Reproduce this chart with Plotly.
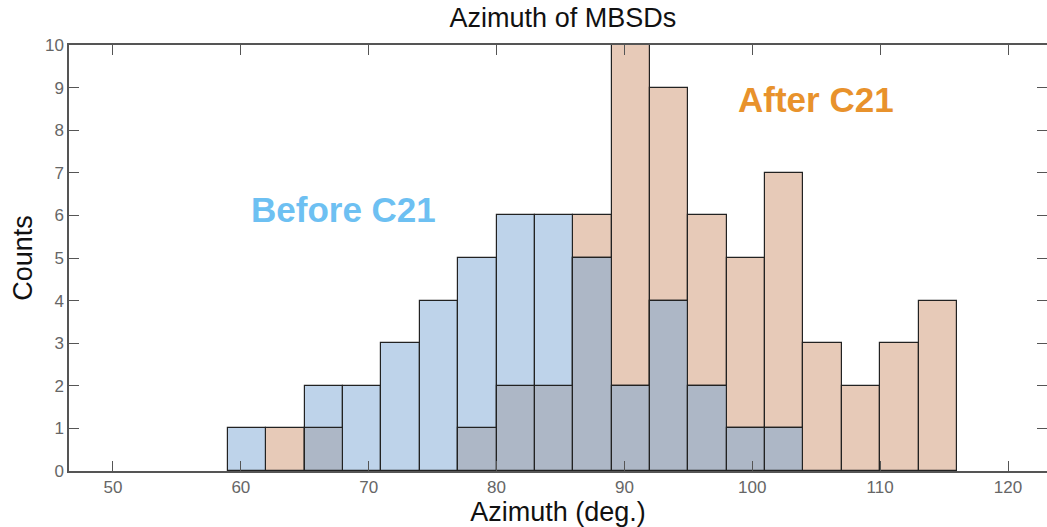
import plotly.graph_objects as go

bin_starts = [59, 62, 65, 68, 71, 74, 77, 80, 83, 86, 89, 92, 95, 98, 101, 104, 107, 110, 113]
bin_width = 3
before_counts = [1, 0, 2, 2, 3, 4, 5, 6, 6, 5, 2, 4, 2, 1, 1, 0, 0, 0, 0]
after_counts = [0, 1, 1, 0, 0, 0, 1, 2, 2, 6, 10, 9, 6, 5, 7, 3, 2, 3, 4]
x_ticks = [50, 60, 70, 80, 90, 100, 110, 120]
y_ticks = list(range(0, 11))

centers = [s + bin_width / 2 for s in bin_starts]
overlap = [min(a, b) for a, b in zip(before_counts, after_counts)]


def nz(v):
    return [c if c > 0 else None for c in v]


FONT = "Liberation Sans, Arial"
line = dict(color="#222222", width=1.2)
fig = go.Figure()
fig.add_trace(go.Bar(x=centers, y=nz(after_counts), width=bin_width,
                     marker=dict(color="#e7cab8", line=line), name="After C21"))
fig.add_trace(go.Bar(x=centers, y=nz(before_counts), width=bin_width,
                     marker=dict(color="#bed3ea", line=line), name="Before C21"))
fig.add_trace(go.Bar(x=centers, y=nz(overlap), width=bin_width,
                     marker=dict(color="#adb7c6", line=line), name="Overlap"))

axis_common = dict(showline=True, linecolor="#555555", linewidth=1.5, mirror="ticks",
                   ticks="inside", ticklen=10, tickcolor="#555555", tickwidth=1.2,
                   showgrid=False, zeroline=False, automargin=False,
                   tickfont=dict(family=FONT, size=17, color="#666666"))

fig.update_layout(
    width=1047, height=527,
    margin=dict(l=69, r=0, t=45, b=56),
    barmode="overlay", bargap=0,
    plot_bgcolor="white", paper_bgcolor="white",
    showlegend=False,
    title=dict(text="Azimuth of MBSDs", x=0.505, xanchor="center", y=0.966, yanchor="middle",
               xref="paper", yref="container",
               font=dict(family=FONT, size=27, color="#111111")),
    xaxis=dict(range=[46.56, 123.05], tickvals=x_ticks,
               title=dict(text="Azimuth (deg.)", standoff=0,
                          font=dict(family=FONT, size=27, color="#111111")),
               **axis_common),
    yaxis=dict(range=[0, 10], tickvals=y_ticks,
               title=dict(text="Counts", standoff=4,
                          font=dict(family=FONT, size=27, color="#111111")),
               **axis_common),
)

fig.add_annotation(x=68.0, y=6.13, xref="x", yref="y", text="<b>Before C21</b>", showarrow=False,
                   font=dict(family=FONT, size=35, color="#6dc0f2"))
fig.add_annotation(x=105.0, y=8.71, xref="x", yref="y", text="<b>After C21</b>", showarrow=False,
                   font=dict(family=FONT, size=35, color="#e8922c"))

fig.write_html("out.html", config={"displayModeBar": False},
               post_script="document.body.style.margin='0';document.body.style.overflow='hidden';")
